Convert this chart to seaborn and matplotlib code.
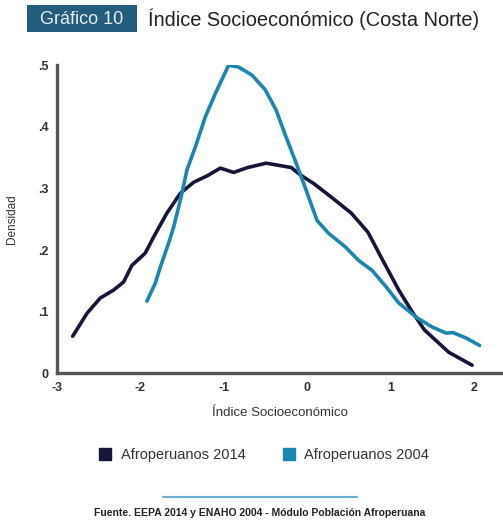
import matplotlib
matplotlib.use("Agg")
import matplotlib.pyplot as plt
import pandas as pd
import seaborn as sns
from matplotlib.lines import Line2D
from matplotlib.patches import Rectangle

# %% Data
x_2014 = [-2.81, -2.64, -2.48, -2.32, -2.20, -2.10, -1.94, -1.84, -1.68, -1.52,
          -1.36, -1.19, -1.04, -0.88, -0.71, -0.49, -0.19, -0.07, 0.08, 0.29,
          0.53, 0.73, 0.89, 1.10, 1.25, 1.41, 1.70, 1.98]
y_2014 = [0.060, 0.097, 0.122, 0.135, 0.148, 0.175, 0.195, 0.221, 0.260, 0.292,
          0.310, 0.321, 0.333, 0.326, 0.334, 0.341, 0.334, 0.321, 0.308, 0.286,
          0.260, 0.229, 0.188, 0.135, 0.102, 0.070, 0.034, 0.013]

x_2004 = [-1.92, -1.82, -1.76, -1.66, -1.60, -1.51, -1.44, -1.34, -1.22, -1.10,
          -0.94, -0.82, -0.66, -0.50, -0.37, -0.25, -0.13, -0.01, 0.12, 0.26,
          0.46, 0.62, 0.78, 0.95, 1.10, 1.31, 1.50, 1.67, 1.75, 1.91, 2.07]
y_2004 = [0.117, 0.146, 0.172, 0.211, 0.237, 0.286, 0.330, 0.367, 0.416, 0.454,
          0.500, 0.497, 0.484, 0.460, 0.427, 0.383, 0.341, 0.297, 0.248, 0.227,
          0.205, 0.183, 0.167, 0.140, 0.114, 0.091, 0.075, 0.065, 0.066, 0.057,
          0.045]

series_names = ["Afroperuanos 2014", "Afroperuanos 2004"]
x_ticks = [-3, -2, -1, 0, 1, 2]
x_tick_labels = ["-3", "-2", "-1", "0", "1", "2"]
y_ticks = [0, 0.1, 0.2, 0.3, 0.4, 0.5]
y_tick_labels = ["0", ".1", ".2", ".3", ".4", ".5"]

DARK = "#16163a"
LIGHT = "#1b86b0"
BOX = "#235d7d"

df = pd.concat([
    pd.DataFrame({"x": x_2014, "y": y_2014, "serie": series_names[0]}),
    pd.DataFrame({"x": x_2004, "y": y_2004, "serie": series_names[1]}),
])

# %% Plot
sns.set_style("white")
plt.rcParams["font.family"] = ["Liberation Sans", "DejaVu Sans"]

fig = plt.figure(figsize=(5.03, 5.22), dpi=100)
ax = fig.add_axes([0.113, 0.285, 0.887, 0.59])

sns.lineplot(data=df, x="x", y="y", hue="serie", sort=False,
             palette={series_names[0]: DARK, series_names[1]: LIGHT},
             linewidth=2.6, legend=False, ax=ax)

ax.set_xlim(-3, 2.35)
ax.set_ylim(0, 0.5)
ax.set_xticks(x_ticks)
ax.set_xticklabels(x_tick_labels, fontsize=9, fontweight="bold", color="#333333")
ax.set_yticks(y_ticks)
ax.set_yticklabels(y_tick_labels, fontsize=9, fontweight="bold", color="#333333")
ax.tick_params(length=0, pad=6)
ax.set_xlabel("Índice Socioeconómico", fontsize=9.5, color="#333333", labelpad=10)
ax.set_ylabel("Densidad", fontsize=8.5, color="#333333", labelpad=14)

sns.despine(ax=ax)
for side in ["left", "bottom"]:
    ax.spines[side].set_color("#555555")
    ax.spines[side].set_linewidth(2.4)

# title box + title
fig.add_artist(Rectangle((27 / 503, 1 - 32 / 522), 110 / 503, 27 / 522,
                         transform=fig.transFigure, facecolor=BOX, edgecolor="none"))
fig.text(82 / 503, 1 - 19 / 522, "Gráfico 10", fontsize=13, color="#e8eef2",
         va="center", ha="center")
fig.text(148 / 503, 1 - 19 / 522, "Índice Socioeconómico (Costa Norte)", fontsize=14.4,
         color="#222222", va="center", ha="left")

# legend
handles = [Line2D([], [], marker="s", linestyle="none", markersize=9, color=c)
           for c in [DARK, LIGHT]]
fig.legend(handles, series_names, loc="center", bbox_to_anchor=(0.517, 0.128),
           ncol=2, frameon=False, fontsize=10.5, handletextpad=0.05,
           columnspacing=2.0, labelcolor="#333333")

# source line
fig.add_artist(Line2D([0.325, 0.71], [0.048, 0.048], color="#6aaed0", linewidth=1.5))
fig.text(0.517, 0.018, "Fuente. EEPA 2014 y ENAHO 2004 - Módulo Población Afroperuana",
         fontsize=7.5, fontweight="bold", color="#222222", ha="center", va="center")

fig.savefig("out.png", dpi=100)
